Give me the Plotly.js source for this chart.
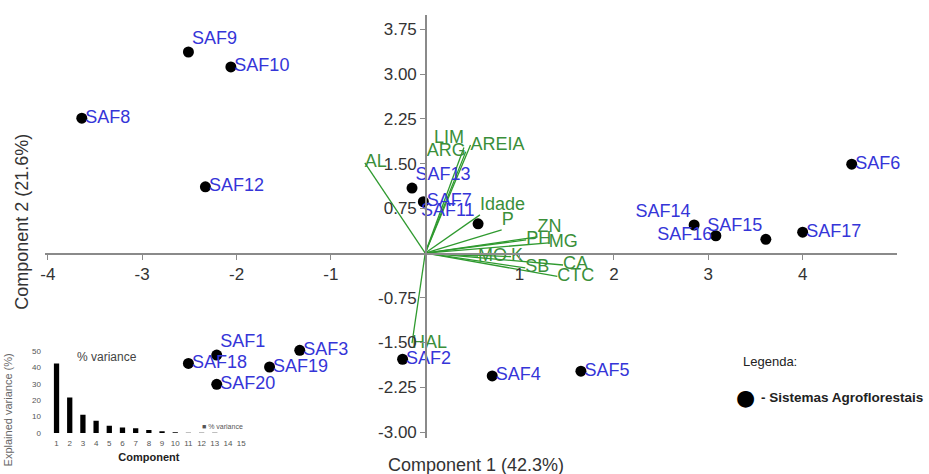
<!DOCTYPE html>
<html>
<head>
<meta charset="utf-8">
<script src="https://cdn.plot.ly/plotly-3.0.1.min.js"></script>
<style>html,body{margin:0;padding:0;background:#fff;}#chart{width:929px;height:474px;}</style>
</head>
<body>
<div id="chart"></div>
<script>
// Sample scores (PCA)
const sites = ['SAF1','SAF2','SAF3','SAF4','SAF5','SAF6','SAF7','SAF8','SAF9','SAF10',
               'SAF11','SAF12','SAF13','SAF14','SAF15','SAF16','SAF17','SAF18','SAF19','SAF20'];
const pc1 = [-2.21,-0.24,-1.33,0.71,1.65,4.52,-0.02,-3.64,-2.51,-2.06,
              0.56,-2.33,-0.14,2.85,3.61,3.08,4.00,-2.51,-1.65,-2.21];
const pc2 = [-1.71,-1.78,-1.63,-2.06,-1.98,1.49,0.86,2.26,3.37,3.12,
              0.49,1.11,1.09,0.47,0.23,0.29,0.35,-1.85,-1.91,-2.20];
const sitePos = ['top right','middle right','middle right','middle right','middle right','middle right','middle right','middle right','top right','middle right',
                 'top left','middle right','top right','top left','top left','middle left','middle right','middle right','middle right','middle right'];

// Variable loadings
const vars = ['AL','LIM','ARG','AREIA','Idade','P','ZN','PH','MG','MO','K','CA','SB','CTC','HAL'];
const load1 = [-0.64,0.41,0.43,0.48,0.58,0.81,1.19,1.07,1.31,0.56,0.91,1.46,1.06,1.40,-0.14];
const load2 = [1.51,1.77,1.70,1.81,0.64,0.39,0.27,0.22,0.17,-0.05,-0.06,-0.20,-0.25,-0.39,-1.51];
const varPos = ['middle right','top left','middle left','middle right','top right','top right','top right','middle right','middle right','middle right','middle right','middle right','middle right','middle right','middle right'];

// Scree (inset)
const comps = [1,2,3,4,5,6,7,8,9,10,11,12,13,14,15];
const variance = [42.3,21.6,11.2,7.4,4.5,3.4,2.9,1.9,1.0,0.5,0.2,0.1,0.1,0.05,0.02];

// Tick labels
const xTickVals = [-4,-3,-2,-1,1,2,3,4];
const xTickText = ['-4','-3','-2','-1','1','2','3','4'];
const yTickVals = [3.75,3.00,2.25,1.50,0.75,-0.75,-1.50,-2.25,-3.00];
const yTickText = ['3.75','3.00','2.25','1.50','0.75','-0.75','-1.50','-2.25','-3.00'];

const xRange = [-4.03, 5.0];
const yRange = [-3.10, 3.99];

const lx = [], ly = [];
for (let i = 0; i < vars.length; i++) { lx.push(0, load1[i], null); ly.push(0, load2[i], null); }

const FONT = 'Liberation Sans, Arial, sans-serif';
const green = '#3a8f3a';

const traces = [
  {type:'scatter', mode:'lines', x:lx, y:ly, line:{color:'#2f9a2f', width:1.3}, hoverinfo:'skip', showlegend:false},
  {type:'scatter', mode:'text', x:load1, y:load2, text:vars, textposition:varPos, cliponaxis:false,
   textfont:{family:FONT, size:18, color:green}, showlegend:false},
  {type:'scatter', mode:'markers', x:pc1, y:pc2, cliponaxis:false,
   marker:{color:'#000', size:11}, showlegend:false},
  {type:'scatter', mode:'markers+text', x:pc1, y:pc2, text:sites, textposition:sitePos, cliponaxis:false,
   marker:{color:'rgba(0,0,0,0)', size:4}, textfont:{family:FONT, size:18, color:'#3535d8'}, showlegend:false},
  {type:'bar', x:comps, y:variance, xaxis:'x2', yaxis:'y2', width:0.4, marker:{color:'#000'}, showlegend:false}
];

const layout = {
  width:929, height:474,
  margin:{l:45, r:32, t:15, b:36},
  paper_bgcolor:'#fff', plot_bgcolor:'rgba(0,0,0,0)',
  font:{family:FONT, color:'#333'},
  showlegend:false,
  xaxis:{range:xRange, anchor:'free', position:(0 - yRange[0])/(yRange[1]-yRange[0]),
         showgrid:false, zeroline:false, showline:true, linecolor:'#8a8a8a', linewidth:1.5,
         ticks:'outside', ticklen:5, tickcolor:'#8a8a8a', tickvals:xTickVals, ticktext:xTickText,
         tickfont:{family:FONT, size:17, color:'#333'}},
  yaxis:{range:yRange, anchor:'free', position:(0 - xRange[0])/(xRange[1]-xRange[0]),
         showgrid:false, zeroline:false, showline:true, linecolor:'#8a8a8a', linewidth:1.5,
         ticks:'outside', ticklen:5, tickcolor:'#8a8a8a', tickvals:yTickVals, ticktext:yTickText,
         tickfont:{family:FONT, size:17, color:'#333'}},
  xaxis2:{domain:[0.0058,0.238], anchor:'y2', range:[0.5,15.5], showgrid:false, zeroline:false, showline:false,
          tickvals:comps, ticks:'', ticklabelstandoff:4, tickfont:{family:FONT, size:8, color:'#555'},
          title:{text:'<b>Component</b>', font:{family:FONT, size:11, color:'#222'}, standoff:6}},
  yaxis2:{domain:[0.0118,0.2057], anchor:'x2', range:[0,50], showgrid:false, zeroline:false, showline:false,
          tickvals:[0,10,20,30,40,50], ticks:'', ticklabelstandoff:8, tickfont:{family:FONT, size:8, color:'#555'}},
  annotations:[
    {xref:'paper', yref:'paper', x:0.506, y:-0.064, text:'Component 1 (42.3%)', showarrow:false,
     font:{family:FONT, size:18, color:'#333'}, xanchor:'center', yanchor:'middle'},
    {xref:'paper', yref:'paper', x:-0.027, y:0.511, text:'Component 2 (21.6%)', showarrow:false, textangle:-90,
     font:{family:FONT, size:18, color:'#333'}, xanchor:'center', yanchor:'middle'},
    {xref:'paper', yref:'paper', x:-0.043, y:0.066, text:'Explained variance (%)', showarrow:false, textangle:-90,
     font:{family:FONT, size:11, color:'#666'}, xanchor:'center', yanchor:'middle'},
    {xref:'paper', yref:'paper', x:0.073, y:0.191, text:'% variance', showarrow:false,
     font:{family:FONT, size:12, color:'#444'}, xanchor:'center', yanchor:'middle'},
    {xref:'paper', yref:'paper', x:0.182, y:0.028, text:'■ % variance', showarrow:false,
     font:{family:FONT, size:7, color:'#555'}, xanchor:'left', yanchor:'middle'},
    {xref:'paper', yref:'paper', x:0.851, y:0.18, text:'Legenda:', showarrow:false,
     font:{family:FONT, size:13, color:'#222'}, xanchor:'center', yanchor:'middle'},
    {xref:'paper', yref:'paper', x:0.822, y:0.095, text:'●', showarrow:false,
     font:{family:'DejaVu Sans', size:22, color:'#000'}, xanchor:'center', yanchor:'middle'},
    {xref:'paper', yref:'paper', x:0.838, y:0.095, text:'<b>- Sistemas Agroflorestais</b>', showarrow:false,
     font:{family:FONT, size:13.5, color:'#222'}, xanchor:'left', yanchor:'middle'}
  ]
};

Plotly.newPlot('chart', traces, layout, {displayModeBar:false, staticPlot:true});
</script>
</body>
</html>
